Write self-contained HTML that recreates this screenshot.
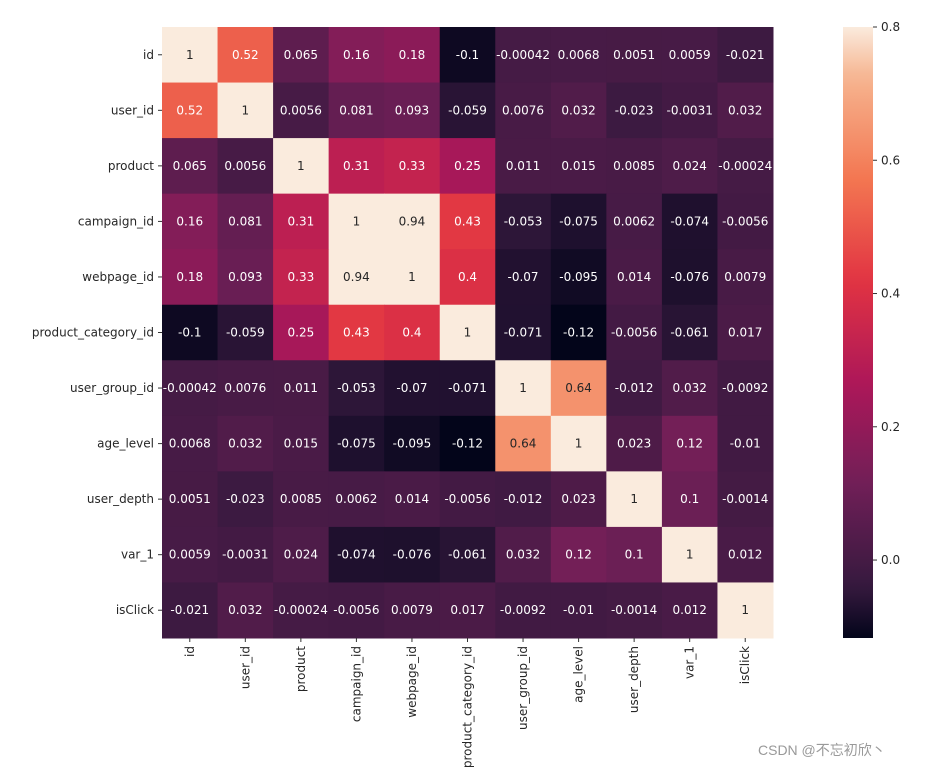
<!DOCTYPE html>
<html><head><meta charset="utf-8"><style>
html,body{margin:0;padding:0;background:#fff;width:937px;height:770px;overflow:hidden}
svg text{font-family:"DejaVu Sans","Liberation Sans",sans-serif;font-size:12px}
#wm{position:absolute;left:758px;top:740px;font:14px "Liberation Sans","Noto Sans CJK SC",sans-serif;color:#999}
</style></head><body>
<svg id="chart" width="937" height="770" xmlns="http://www.w3.org/2000/svg"></svg>
<div id="wm">CSDN @不忘初欣丶</div>
<script>
const labels=["id","user_id","product","campaign_id","webpage_id","product_category_id","user_group_id","age_level","user_depth","var_1","isClick"];
const row0=["1","0.52","0.065","0.16","0.18","-0.1","-0.00042","0.0068","0.0051","0.0059","-0.021"];
const row1=["0.52","1","0.0056","0.081","0.093","-0.059","0.0076","0.032","-0.023","-0.0031","0.032"];
const row2=["0.065","0.0056","1","0.31","0.33","0.25","0.011","0.015","0.0085","0.024","-0.00024"];
const row3=["0.16","0.081","0.31","1","0.94","0.43","-0.053","-0.075","0.0062","-0.074","-0.0056"];
const row4=["0.18","0.093","0.33","0.94","1","0.4","-0.07","-0.095","0.014","-0.076","0.0079"];
const row5=["-0.1","-0.059","0.25","0.43","0.4","1","-0.071","-0.12","-0.0056","-0.061","0.017"];
const row6=["-0.00042","0.0076","0.011","-0.053","-0.07","-0.071","1","0.64","-0.012","0.032","-0.0092"];
const row7=["0.0068","0.032","0.015","-0.075","-0.095","-0.12","0.64","1","0.023","0.12","-0.01"];
const row8=["0.0051","-0.023","0.0085","0.0062","0.014","-0.0056","-0.012","0.023","1","0.1","-0.0014"];
const row9=["0.0059","-0.0031","0.024","-0.074","-0.076","-0.061","0.032","0.12","0.1","1","0.012"];
const row10=["-0.021","0.032","-0.00024","-0.0056","0.0079","0.017","-0.0092","-0.01","-0.0014","0.012","1"];
const matrix=[row0,row1,row2,row3,row4,row5,row6,row7,row8,row9,row10];
const cbTicks=[0.0,0.2,0.4,0.6,0.8];
const vmin=-0.117, vmax=0.8;

const NS="http://www.w3.org/2000/svg";
const svg=document.getElementById('chart');
const X0=162,Y0=27,W=611,H=611,n=labels.length,cw=W/n,ch=H/n;
const stops=[[0,[3,5,26]],[1/12,[53,25,62]],[3/12,[112,31,87]],[5/12,[173,23,89]],[7/12,[225,51,66]],[9/12,[243,118,81]],[11/12,[246,180,143]],[1,[250,235,221]]];
function cmap(v){let t=Math.max(0,Math.min(1,(v-vmin)/(vmax-vmin)));
 for(let i=1;i<stops.length;i++){if(t<=stops[i][0]){const a=stops[i-1],b=stops[i],f=(t-a[0])/(b[0]-a[0]);
 return a[1].map((c,k)=>Math.round(c+(b[1][k]-c)*f));}}return stops[stops.length-1][1];}
function lum(c){const l=c.map(x=>{x/=255;return x<=0.03928?x/12.92:Math.pow((x+0.055)/1.055,2.4)});return 0.2126*l[0]+0.7152*l[1]+0.0722*l[2];}
function xs(j){return X0+j*cw;} function ys(i){return Y0+i*ch;}
function el(t,a){const e=document.createElementNS(NS,t);for(const k in a)e.setAttribute(k,a[k]);svg.appendChild(e);return e;}
matrix.forEach((row,i)=>row.forEach((s,j)=>{
 const v=parseFloat(s),c=cmap(v);
 const r=el('rect',{x:xs(j),y:ys(i),width:cw+0.5,height:ch+0.5,fill:`rgb(${c})`});
 
 
 const t=el('text',{x:xs(j)+cw/2,y:ys(i)+ch/2+4,'text-anchor':'middle',fill:lum(c)>0.408?'#262626':'#fff'});
 t.textContent=s;
 
 
}));
labels.forEach((lb,i)=>{
 el('line',{x1:X0-4,x2:X0,y1:ys(i)+ch/2,y2:ys(i)+ch/2,stroke:'#333'});
 const t=el('text',{x:X0-8,y:ys(i)+ch/2+4,'text-anchor':'end',fill:'#262626'});t.textContent=lb;
 
 
 const cx=xs(i)+cw/2;
 el('line',{x1:cx,x2:cx,y1:Y0+H,y2:Y0+H+4,stroke:'#333'});
 const u=el('text',{x:0,y:0,'text-anchor':'end',fill:'#262626',transform:`translate(${cx+4},${Y0+H+8}) rotate(-90)`});u.textContent=lb;
 
 
});
const CX=843,CW=30,CY=27,CH=611;
const defs=el('defs',{});const g=document.createElementNS(NS,'linearGradient');
g.setAttribute('id','cg');g.setAttribute('x1','0');g.setAttribute('y1','1');g.setAttribute('x2','0');g.setAttribute('y2','0');defs.appendChild(g);
for(let k=0;k<=40;k++){const v=vmin+(vmax-vmin)*k/40;const s=document.createElementNS(NS,'stop');s.setAttribute('offset',k/40);s.setAttribute('stop-color',`rgb(${cmap(v)})`);g.appendChild(s);}
const cb=el('rect',{x:CX,y:CY,width:CW,height:CH,fill:'url(#cg)'});


function cy(v){return CY+CH-(v-vmin)/(vmax-vmin)*CH;}
cbTicks.forEach(v=>{const y=cy(v);
 el('line',{x1:CX+CW,x2:CX+CW+4,y1:y,y2:y,stroke:'#333'});
 const t=el('text',{x:CX+CW+8,y:y+4,fill:'#262626'});t.textContent=v.toFixed(1);
 
 
});
</script>
</body></html>
